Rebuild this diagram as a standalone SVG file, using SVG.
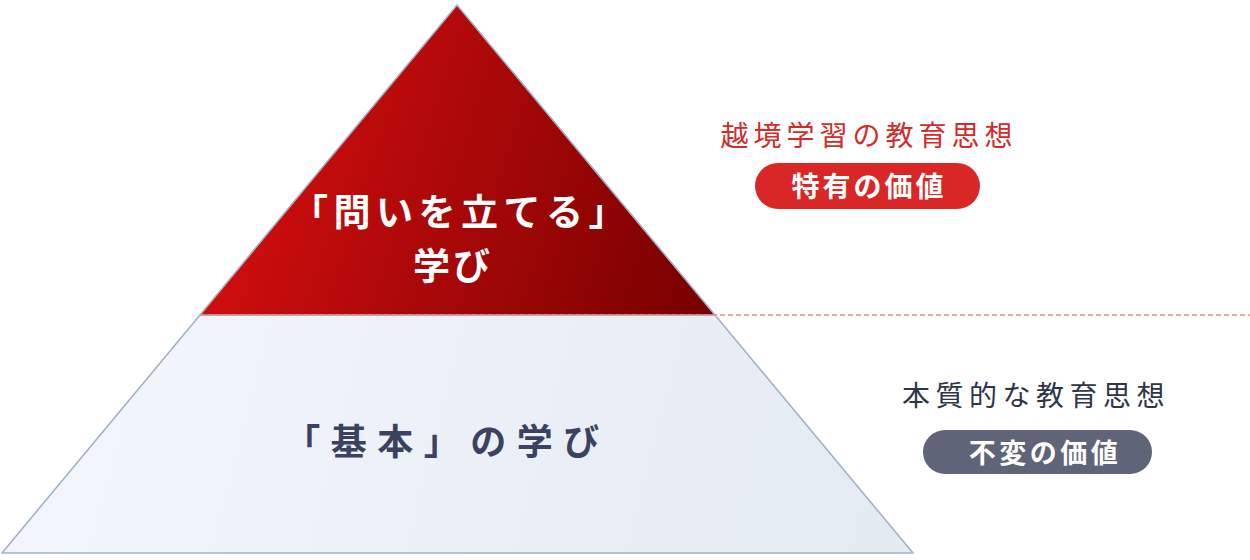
<svg xmlns="http://www.w3.org/2000/svg" width="1250" height="560" viewBox="0 0 1250 560">
<defs>
<linearGradient id="gRed" x1="200" y1="150" x2="715" y2="315" gradientUnits="userSpaceOnUse">
<stop offset="0" stop-color="#d80f0f"/>
<stop offset="1" stop-color="#760000"/>
</linearGradient>
<linearGradient id="gBlue" x1="2" y1="315" x2="913" y2="553" gradientUnits="userSpaceOnUse">
<stop offset="0" stop-color="#f3f7fd"/>
<stop offset="1" stop-color="#e4eaf2"/>
</linearGradient>
<style>
.edge{stroke:#a3b2c5;stroke-width:1.6;stroke-linejoin:round}
.jp{font-family:"Noto Sans CJK JP","Noto Sans",sans-serif}
.w{fill:#ffffff;font-weight:bold}
</style>
</defs>
<rect width="1250" height="560" fill="#ffffff"/>
<g id="base">
<polygon class="edge" points="200,315 715,315 913,553 2,553" fill="url(#gBlue)"/>
<text class="jp" x="447" y="455" font-size="36" font-weight="bold" fill="#3b4260" text-anchor="middle" letter-spacing="10.5">「基本」の学び</text>
</g>
<g id="top">
<polygon class="edge" points="457,5 715,315 200,315" fill="url(#gRed)"/>
<text class="jp w" x="461" y="226" font-size="37" text-anchor="middle" letter-spacing="5.5">「問いを立てる」</text>
<text class="jp w" x="453" y="280" font-size="37" text-anchor="middle" letter-spacing="3">学び</text>
</g>
<g id="connectors">
<line x1="200" y1="315" x2="1250" y2="315" stroke="#f08a8a" stroke-width="1.3" stroke-dasharray="5,3"/>
</g>
<g id="label-top">
<text class="jp" x="869" y="146" font-size="28" fill="#d42a2a" text-anchor="middle" letter-spacing="5">越境学習の教育思想</text>
<rect x="755" y="163" width="225" height="46" rx="23" fill="#d92626"/>
<text class="jp w" x="869" y="197" font-size="28" text-anchor="middle" letter-spacing="3">特有の価値</text>
</g>
<g id="label-base">
<text class="jp" x="1036" y="406" font-size="28" fill="#2f3548" text-anchor="middle" letter-spacing="5.5">本質的な教育思想</text>
<rect x="923" y="430" width="229" height="44" rx="22" fill="#5f6478"/>
<text class="jp w" x="1045" y="463" font-size="27" text-anchor="middle" letter-spacing="3.5">不変の価値</text>
</g>
</svg>
